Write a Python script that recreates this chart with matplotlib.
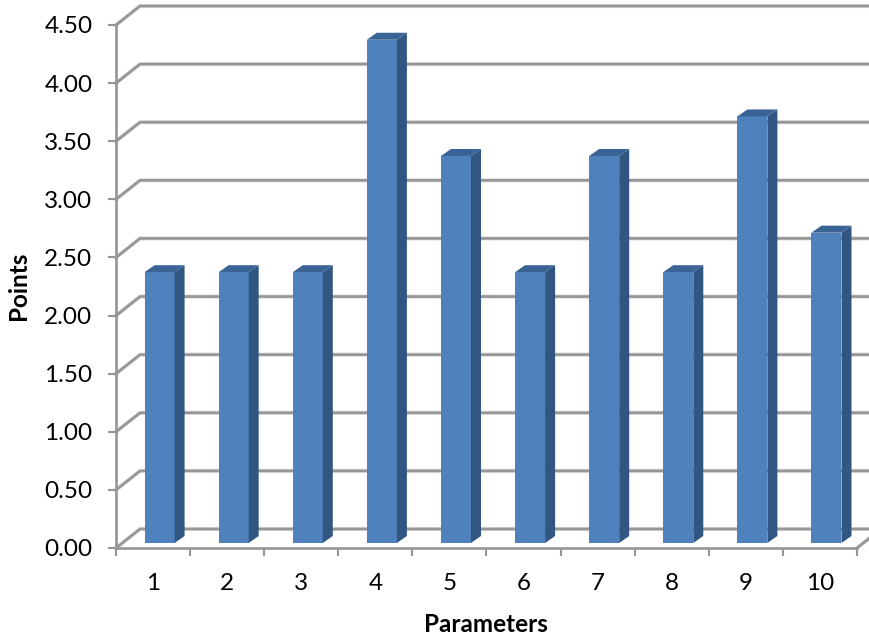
import matplotlib
matplotlib.use("Agg")
import matplotlib.pyplot as plt
from matplotlib.patches import Polygon

plt.rcParams["font.family"] = ["Lato", "DejaVu Sans"]

# Data
categories = ["1", "2", "3", "4", "5", "6", "7", "8", "9", "10"]
points = [2.33, 2.33, 2.33, 4.33, 3.33, 2.33, 3.33, 2.33, 3.67, 2.67]
y_ticks = [0, 0.5, 1, 1.5, 2, 2.5, 3, 3.5, 4, 4.5]

# Colours
FRONT = "#4f81bd"
SIDE = "#325682"
TOP = "#3b6496"
GRID = "#969696"
HALO = "#dedede"

# Fake 3D offsets in data units
WALL_DX = 24 / 74
WALL_DY = 19 / 116.2
BAR_W = 30 / 74
BAR_DX = 10 / 74
BAR_DY = 7 / 116.2
BAR_SHIFT = 6.5 / 74
BAR_BASE = 5 / 116.2

TEXT_SIZE = 17.5

W, H = 870, 639
fig = plt.figure(figsize=(W / 100, H / 100), dpi=100)
ax = fig.add_axes([116 / W, (H - 548) / H, 741 / W, 523 / H])

x_pos = list(range(1, len(categories) + 1))
ax.set_xlim(0.5, len(categories) + 0.5)
ax.set_ylim(0, 4.5)

# Back wall grid and diagonals, soft halo below the line
for lw, col, z in [(3.0, HALO, 1), (1.9, GRID, 2)]:
    for t in y_ticks:
        ax.plot([0.5, 0.5 + WALL_DX, 12], [t, t + WALL_DY, t + WALL_DY],
                color=col, lw=lw, clip_on=False, zorder=z)
    ax.plot([10.5, 10.5 + WALL_DX], [0, WALL_DY], color=col, lw=lw, clip_on=False, zorder=z)

# Bars
for x, v in zip(x_pos, points):
    cx = x + BAR_SHIFT
    left, right = cx - BAR_W / 2, cx + BAR_W / 2
    top = v + BAR_BASE
    ax.bar(cx, v, width=BAR_W, bottom=BAR_BASE, color=FRONT, zorder=3)
    ax.add_patch(Polygon([(right, BAR_BASE), (right + BAR_DX, BAR_BASE + BAR_DY),
                          (right + BAR_DX, top + BAR_DY), (right, top)],
                         closed=True, color=SIDE, lw=0, zorder=3))
    ax.add_patch(Polygon([(left, top), (left + BAR_DX, top + BAR_DY),
                          (right + BAR_DX, top + BAR_DY), (right, top)],
                         closed=True, color=TOP, lw=0, zorder=3))

# Axes
for s in ["top", "right"]:
    ax.spines[s].set_visible(False)
for s in ["left", "bottom"]:
    ax.spines[s].set_color(GRID)
    ax.spines[s].set_linewidth(1.9)
ax.patch.set_visible(False)

ax.set_yticks(y_ticks)
ax.set_yticklabels([f"{t:.2f}" for t in y_ticks])
ax.set_xticks([x - 0.5 for x in x_pos] + [len(x_pos) + 0.5])
ax.set_xticklabels([])
ax.tick_params(axis="y", length=6, width=1.5, color=GRID, pad=11, labelsize=TEXT_SIZE)
ax.tick_params(axis="x", length=6, width=1.5, color=GRID)

# category labels sit between the ticks
for x, c in zip(x_pos, categories):
    ax.annotate(c, (x, 0), xytext=(0, -36), textcoords="offset pixels",
                ha="center", va="center", fontsize=TEXT_SIZE, annotation_clip=False)

fig.text(486 / W, 1 - 624 / H, "Parameters", ha="center", va="center",
         fontsize=TEXT_SIZE, fontweight="bold")
fig.text(19 / W, 1 - 286 / H, "Points", ha="center", va="center", rotation=90,
         fontsize=TEXT_SIZE, fontweight="bold")

fig.savefig("out.png", dpi=100)
